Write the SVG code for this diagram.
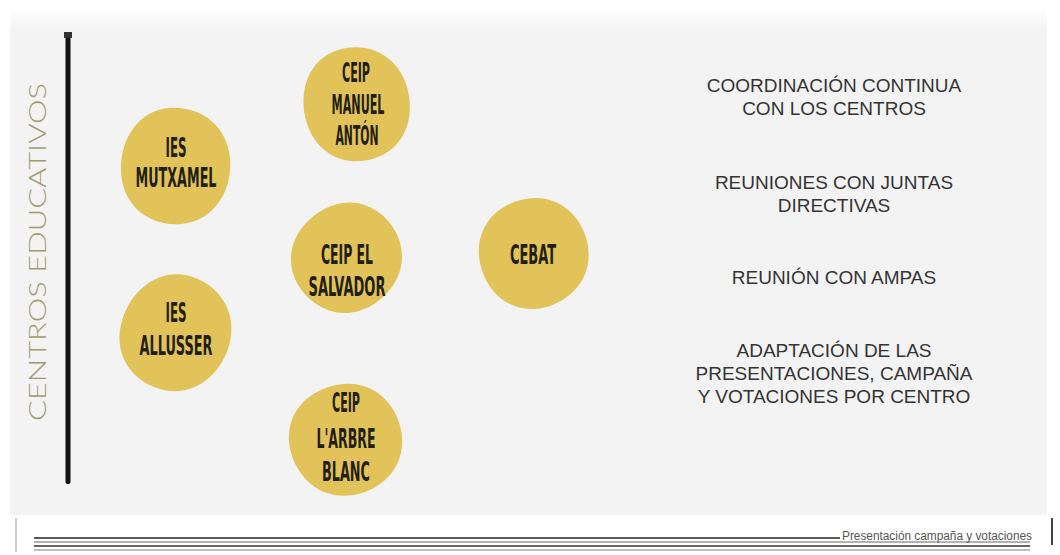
<svg xmlns="http://www.w3.org/2000/svg" width="1060" height="555" viewBox="0 0 1060 555">
<defs>
<linearGradient id="topfade" x1="0" y1="0" x2="0" y2="1">
<stop offset="0" stop-color="#ffffff"/>
<stop offset="1" stop-color="#f3f3f3"/>
</linearGradient>
<path id="blob" d="M -6,-57 C 24,-59 51,-40 54,-8 C 57,24 38,55 4,57 C -28,59 -54,38 -55,5 C -56,-28 -36,-55 -6,-57 Z"/>
<style>
.blob{fill:#e2c35a}
.bt{font-family:"Liberation Sans Narrow","DejaVu Sans Condensed","Liberation Sans",sans-serif;font-weight:bold;font-size:26px;fill:#231e12;text-anchor:middle}
.rt{font-family:"Liberation Sans",Arial,sans-serif;font-size:19px;fill:#333333;text-anchor:middle}
.vt{font-family:Lato,"Open Sans",sans-serif;font-weight:300;font-size:23px;fill:#a19b70}
.ln{stroke-width:1.5}
</style>
</defs>
<rect width="1060" height="555" fill="#ffffff"/>
<rect x="10" y="8" width="1037" height="507" fill="#f3f3f3"/>
<rect x="10" y="8" width="1037" height="22" fill="url(#topfade)"/>

<g id="axis">
<rect x="65.5" y="35" width="5" height="449" rx="2" fill="#111111"/>
<rect x="64" y="32" width="8" height="6" fill="#333333"/>
</g>
<g id="title">
<text class="vt" transform="translate(46,421) rotate(-90)" textLength="338" lengthAdjust="spacingAndGlyphs">CENTROS EDUCATIVOS</text>
</g>

<g id="ies-mutxamel">
<use href="#blob" class="blob" transform="translate(176,166) scale(1,1.02)"/>
<text class="bt" x="176" y="157" textLength="21" lengthAdjust="spacingAndGlyphs">IES</text>
<text class="bt" x="176" y="187" textLength="81" lengthAdjust="spacingAndGlyphs">MUTXAMEL</text>
</g>
<g id="ies-allusser">
<use href="#blob" class="blob" transform="translate(176,333) rotate(20) scale(1,1.02)"/>
<text class="bt" x="176" y="322" textLength="21" lengthAdjust="spacingAndGlyphs">IES</text>
<text class="bt" x="176" y="355" textLength="73" lengthAdjust="spacingAndGlyphs">ALLUSSER</text>
</g>
<g id="ceip-manuel-anton">
<use href="#blob" class="blob" transform="translate(357,104) rotate(-15) scale(0.97,1.0)"/>
<text class="bt" x="356" y="82" textLength="28" lengthAdjust="spacingAndGlyphs">CEIP</text>
<text class="bt" x="358" y="114" textLength="53" lengthAdjust="spacingAndGlyphs">MANUEL</text>
<text class="bt" x="357" y="145" textLength="43" lengthAdjust="spacingAndGlyphs">ANTÓN</text>
</g>
<g id="ceip-el-salvador">
<use href="#blob" class="blob" transform="translate(347,258) rotate(40) scale(0.98,0.97)"/>
<text class="bt" x="347" y="264" textLength="52" lengthAdjust="spacingAndGlyphs">CEIP EL</text>
<text class="bt" x="347" y="296" textLength="77" lengthAdjust="spacingAndGlyphs">SALVADOR</text>
</g>
<g id="cebat">
<use href="#blob" class="blob" transform="translate(534,253) rotate(-30) scale(1,0.96)"/>
<text class="bt" x="533" y="264" textLength="46" lengthAdjust="spacingAndGlyphs">CEBAT</text>
</g>
<g id="ceip-larbre-blanc">
<use href="#blob" class="blob" transform="translate(346,440) rotate(60) scale(1.02,0.98)"/>
<text class="bt" x="346" y="412" textLength="28" lengthAdjust="spacingAndGlyphs">CEIP</text>
<text class="bt" x="346" y="448" textLength="59" lengthAdjust="spacingAndGlyphs">L'ARBRE</text>
<text class="bt" x="346" y="481" textLength="48" lengthAdjust="spacingAndGlyphs">BLANC</text>
</g>

<g id="actions">
<text class="rt" x="834" y="92">COORDINACIÓN CONTINUA</text>
<text class="rt" x="834" y="115">CON LOS CENTROS</text>
<text class="rt" x="834" y="189">REUNIONES CON JUNTAS</text>
<text class="rt" x="834" y="212">DIRECTIVAS</text>
<text class="rt" x="834" y="284">REUNIÓN CON AMPAS</text>
<text class="rt" x="834" y="357">ADAPTACIÓN DE LAS</text>
<text class="rt" x="834" y="380">PRESENTACIONES, CAMPAÑA</text>
<text class="rt" x="834" y="403">Y VOTACIONES POR CENTRO</text>
</g>

<g id="footer">
<line class="ln" x1="34" y1="538" x2="840" y2="538" stroke="#222222"/>
<line class="ln" x1="34" y1="542" x2="1030" y2="542" stroke="#999999"/>
<line class="ln" x1="34" y1="546" x2="1030" y2="546" stroke="#333333"/>
<line class="ln" x1="34" y1="550" x2="1030" y2="550" stroke="#aaaaaa"/>
<line x1="16" y1="518" x2="16" y2="552" stroke="#999999" stroke-width="1"/>
<line x1="1052" y1="518" x2="1052" y2="545" stroke="#444444" stroke-width="2"/>
<text x="842" y="540" font-family="Liberation Sans, Arial, sans-serif" font-size="12" fill="#555555" textLength="190" lengthAdjust="spacingAndGlyphs">Presentación campaña y votaciones</text>
</g>
</svg>
